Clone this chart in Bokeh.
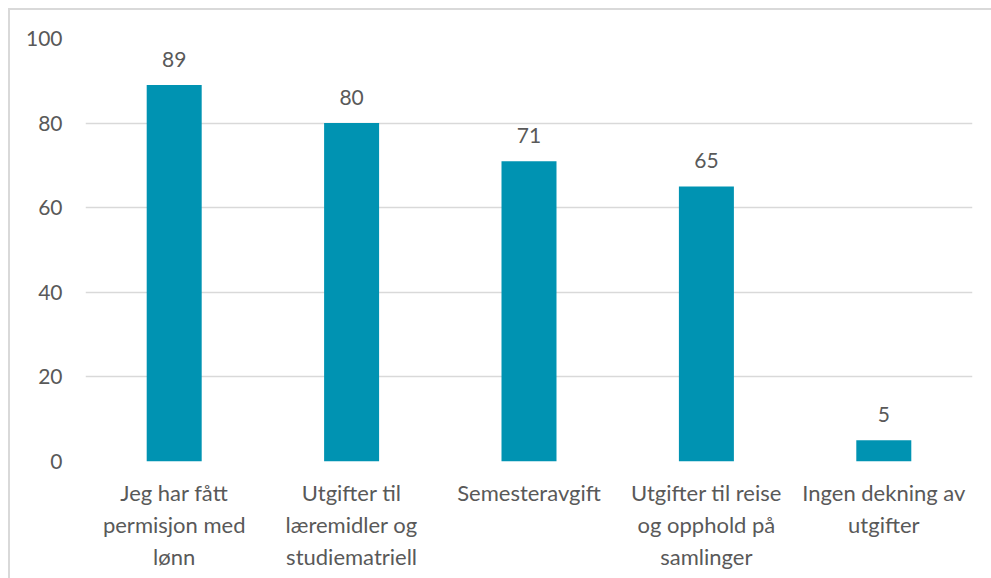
from bokeh.plotting import figure
from bokeh.models import Range1d, FixedTicker, ColumnDataSource
from bokeh.core.properties import value
from bokeh.embed import file_html
from bokeh.resources import INLINE

categories = [
    "Jeg har fått\npermisjon med\nlønn",
    "Utgifter til\nlæremidler og\nstudiematriell",
    "Semesteravgift",
    "Utgifter til reise\nog opphold på\nsamlinger",
    "Ingen dekning av\nutgifter",
]
percent = [89, 80, 71, 65, 5]
y_ticks = [0, 20, 40, 60, 80, 100]

FONT = "Lato"
TEXT = "#595959"
BAR = "#0093B2"
GRID = "#D9D9D9"

xs = list(range(len(categories)))
src = ColumnDataSource(dict(x=xs, top=percent, label=[str(v) for v in percent]))

p = figure(
    width=991, height=578,
    x_range=Range1d(-0.5, len(categories) - 0.5),
    y_range=Range1d(0, 100),
    output_backend="svg", toolbar_location=None,
    min_border_left=85, min_border_right=19,
    min_border_top=38, min_border_bottom=117,
)
p.border_fill_color = None
p.background_fill_color = None
p.outline_line_color = None
p.styles = {
    "background-color": "#ffffff",
    "box-shadow": "inset 8px 8px 0 0 #ffffff, inset 10px 10px 0 0 #D9D9D9",
}

p.vbar(x="x", top="top", bottom=0, width=0.31, source=src,
       fill_color=BAR, line_color=None)

p.text(x="x", y="top", text="label", source=src,
       text_align="center", text_baseline="middle", y_offset=-26,
       text_font=value(FONT), text_font_size="21px", text_color=TEXT)

# axes
p.xaxis.ticker = FixedTicker(ticks=xs)
p.xaxis.major_label_overrides = {i: c for i, c in enumerate(categories)}
p.yaxis.ticker = FixedTicker(ticks=y_ticks)
for ax in (p.xaxis, p.yaxis):
    ax.axis_line_color = None
    ax.major_tick_line_color = None
    ax.minor_tick_line_color = None
    ax.major_tick_in = 0
    ax.major_tick_out = 0
    ax.major_label_text_font = FONT
    ax.major_label_text_color = TEXT
p.yaxis.major_label_text_font_size = "21px"
p.xaxis.major_label_text_font_size = "22px"
p.yaxis.major_label_standoff = 23
p.xaxis.major_label_standoff = 17

p.xgrid.grid_line_color = None
p.ygrid.ticker = FixedTicker(ticks=y_ticks)
p.ygrid.grid_line_color = GRID
p.ygrid.grid_line_width = 1.5

open("out.html", "w").write(file_html(p, INLINE))
